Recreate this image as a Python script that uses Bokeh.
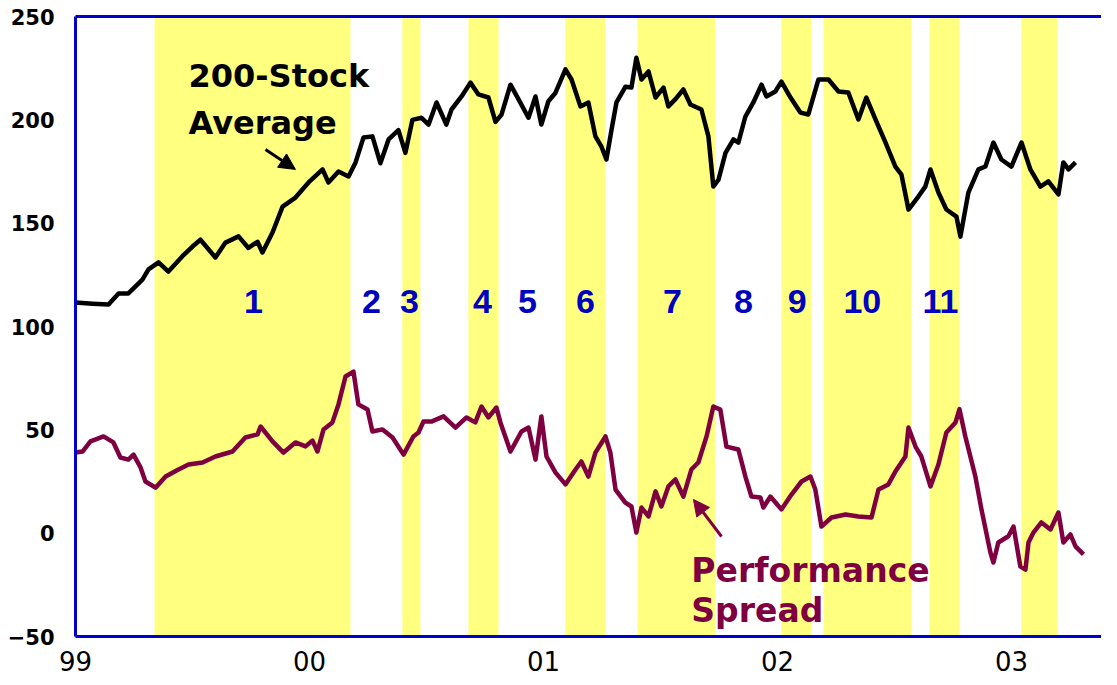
from bokeh.plotting import figure
from bokeh.models import Range1d, FixedTicker, LinearAxis, BoxAnnotation, Arrow, NormalHead
from bokeh.core.properties import value
from bokeh.embed import file_html
from bokeh.resources import INLINE

# ---- data (x in decimal years) ----
avg_year = [1999.000, 1999.073, 1999.141, 1999.184, 1999.226, 1999.286, 1999.312, 1999.355, 1999.397,
            1999.457, 1999.500, 1999.534, 1999.598, 1999.641, 1999.697, 1999.739, 1999.778, 1999.799,
            1999.842, 1999.885, 1999.940, 1999.996, 2000.056, 2000.081, 2000.124, 2000.167, 2000.197,
            2000.231, 2000.269, 2000.303, 2000.338, 2000.380, 2000.410, 2000.440, 2000.479, 2000.509,
            2000.543, 2000.585, 2000.607, 2000.650, 2000.688, 2000.722, 2000.765, 2000.795, 2000.821,
            2000.859, 2000.893, 2000.936, 2000.966, 2000.991, 2001.021, 2001.051, 2001.094, 2001.120,
            2001.158, 2001.192, 2001.222, 2001.248, 2001.269, 2001.291, 2001.312, 2001.350, 2001.376,
            2001.397, 2001.419, 2001.449, 2001.479, 2001.513, 2001.534, 2001.564, 2001.598, 2001.628,
            2001.675, 2001.705, 2001.726, 2001.748, 2001.778, 2001.812, 2001.833, 2001.863, 2001.897,
            2001.932, 2001.953, 2001.991, 2002.017, 2002.056, 2002.098, 2002.132, 2002.175, 2002.218,
            2002.261, 2002.303, 2002.346, 2002.380, 2002.419, 2002.462, 2002.504, 2002.530, 2002.560,
            2002.603, 2002.632, 2002.654, 2002.688, 2002.722, 2002.765, 2002.782, 2002.816, 2002.859,
            2002.889, 2002.923, 2002.957, 2003.000, 2003.043, 2003.081, 2003.124, 2003.158, 2003.201,
            2003.222, 2003.244, 2003.274]
avg_value = [111.6, 111.0, 110.6, 116.0, 116.0, 122.7, 127.6, 131.0, 126.6,
             134.0, 138.7, 142.0, 133.4, 140.6, 143.6, 138.0, 141.0, 135.8,
             145.5, 158.0, 162.4, 169.7, 176.0, 169.7, 175.0, 172.6, 179.4,
             191.5, 192.0, 179.0, 190.5, 195.0, 184.0, 200.0, 201.0, 197.7,
             208.4, 197.7, 205.0, 211.3, 218.0, 212.3, 210.8, 199.0, 202.6,
             217.0, 210.0, 201.0, 211.3, 197.7, 209.0, 213.0, 224.4, 219.5,
             206.5, 208.4, 192.0, 187.0, 180.8, 195.3, 208.4, 216.0, 215.6,
             230.0, 219.5, 223.4, 210.8, 215.6, 206.5, 210.0, 214.7, 207.4,
             205.0, 192.0, 167.7, 171.0, 184.0, 190.5, 189.0, 201.6, 208.4,
             217.0, 211.3, 213.7, 218.5, 210.8, 203.5, 202.6, 219.5, 219.5,
             213.7, 213.2, 200.2, 210.8, 200.2, 189.0, 177.4, 173.5, 156.6,
             163.0, 167.7, 176.0, 164.8, 156.6, 153.2, 143.5, 164.8, 176.0,
             177.4, 189.0, 180.8, 177.4, 189.0, 176.0, 167.7, 170.2, 163.9,
             179.4, 176.0, 179.4]

spread_year = [1999.000, 1999.030, 1999.064, 1999.120, 1999.162, 1999.192, 1999.226, 1999.248, 1999.278,
               1999.299, 1999.342, 1999.385, 1999.440, 1999.483, 1999.543, 1999.598, 1999.671, 1999.726,
               1999.778, 1999.791, 1999.842, 1999.889, 1999.940, 1999.983, 2000.013, 2000.034, 2000.060,
               2000.098, 2000.124, 2000.154, 2000.188, 2000.209, 2000.248, 2000.269, 2000.312, 2000.355,
               2000.402, 2000.444, 2000.466, 2000.487, 2000.521, 2000.573, 2000.624, 2000.671, 2000.709,
               2000.735, 2000.765, 2000.799, 2000.816, 2000.859, 2000.906, 2000.936, 2000.966, 2000.991,
               2001.013, 2001.051, 2001.094, 2001.137, 2001.162, 2001.192, 2001.222, 2001.265, 2001.286,
               2001.308, 2001.350, 2001.376, 2001.397, 2001.419, 2001.449, 2001.479, 2001.504, 2001.534,
               2001.564, 2001.598, 2001.632, 2001.662, 2001.697, 2001.726, 2001.756, 2001.782, 2001.833,
               2001.863, 2001.889, 2001.927, 2001.940, 2001.970, 2002.017, 2002.060, 2002.103, 2002.141,
               2002.162, 2002.188, 2002.231, 2002.291, 2002.346, 2002.402, 2002.432, 2002.474, 2002.504,
               2002.547, 2002.560, 2002.590, 2002.615, 2002.654, 2002.688, 2002.722, 2002.761, 2002.778,
               2002.803, 2002.846, 2002.872, 2002.910, 2002.923, 2002.944, 2002.987, 2003.009, 2003.038,
               2003.060, 2003.073, 2003.094, 2003.128, 2003.167, 2003.201, 2003.222, 2003.252, 2003.274,
               2003.308]
spread_value = [39.0, 39.5, 44.4, 46.8, 43.9, 36.6, 35.6, 38.0, 31.8,
                25.0, 22.0, 27.4, 30.8, 33.2, 34.2, 37.1, 39.5, 46.3,
                47.8, 51.6, 44.4, 39.0, 43.9, 42.0, 44.8, 39.5, 50.2,
                53.6, 62.3, 75.8, 78.2, 62.3, 59.8, 49.2, 50.2, 46.3,
                38.0, 46.8, 48.7, 54.0, 54.0, 56.5, 51.1, 56.0, 53.6,
                61.3, 56.0, 60.8, 53.6, 39.5, 49.2, 51.1, 35.6, 56.5,
                37.1, 29.4, 23.6, 30.8, 34.7, 27.4, 39.0, 46.8, 39.0,
                21.1, 14.8, 12.9, 0.3, 12.4, 8.1, 20.2, 12.9, 22.6,
                26.0, 17.7, 30.8, 34.2, 46.8, 61.3, 59.8, 41.9, 40.5,
                27.4, 17.7, 17.3, 12.4, 17.7, 11.5, 18.7, 25.0, 27.4,
                21.1, 3.2, 7.6, 9.0, 8.1, 7.6, 21.1, 23.6, 29.8,
                37.1, 51.1, 41.9, 37.1, 22.6, 33.2, 48.7, 53.6, 60.0,
                46.8, 27.4, 11.5, -9.3, -14.2, -4.5, -1.5, 3.2, -16.1,
                -17.6, -4.5, 0.3, 5.2, 1.8, 10.0, -4.5, -0.6, -6.4,
                -10.3]

band_start = [1999.338, 2000.397, 2000.679, 2001.094, 2001.402, 2002.017, 2002.197, 2002.650, 2003.043]
band_end = [2000.175, 2000.474, 2000.808, 2001.265, 2001.735, 2002.145, 2002.573, 2002.778, 2003.197]

period_labels = ["1", "2", "3", "4", "5", "6", "7", "8", "9", "10", "11"]
period_label_x = [1999.761, 2000.265, 2000.427, 2000.739, 2000.932, 2001.179, 2001.551, 2001.855,
                  2002.085, 2002.363, 2002.697]
period_label_y = [112] * 11

x_ticks = [1999, 2000, 2001, 2002, 2003]
x_tick_labels = ["99", "00", "01", "02", "03"]
y_ticks = [-50, 0, 50, 100, 150, 200, 250]

avg_text = ["200-Stock", "Average"]
avg_text_x = [1999.483, 1999.483]
avg_text_y = [221.0, 198.5]
spread_text = ["Performance", "Spread"]
spread_text_x = [2001.632, 2001.632]
spread_text_y = [-18.0, -37.3]

BLUE = "#0000CC"
MAROON = "#7F0040"
YELLOW = "#FFFF80"

p = figure(width=1101, height=675,
           x_range=Range1d(1999.0, 2003.385), y_range=Range1d(-50, 250),
           output_backend="svg", toolbar_location=None,
           min_border_left=75, min_border_right=0, min_border_top=16, min_border_bottom=39)
p.outline_line_color = None
p.grid.visible = False
p.background_fill_color = "white"
p.border_fill_color = "white"

# bottom axis
p.xaxis.ticker = FixedTicker(ticks=x_ticks)
p.xaxis.major_label_overrides = {t: l for t, l in zip(x_ticks, x_tick_labels)}
p.xaxis.axis_line_color = BLUE
p.xaxis.axis_line_width = 3
p.xaxis.major_tick_line_color = None
p.xaxis.minor_tick_line_color = None
p.xaxis.major_label_text_font = "DejaVu Sans"
p.xaxis.major_label_text_font_size = "26px"
p.xaxis.major_label_text_color = "black"
p.xaxis.major_label_standoff = 8

# left axis
p.yaxis.ticker = FixedTicker(ticks=y_ticks)
p.yaxis.axis_line_color = BLUE
p.yaxis.axis_line_width = 3
p.yaxis.major_tick_line_color = None
p.yaxis.minor_tick_line_color = None
p.yaxis.major_label_text_font = "DejaVu Sans"
p.yaxis.major_label_text_font_style = "bold"
p.yaxis.major_label_text_font_size = "21px"
p.yaxis.major_label_text_color = "black"
p.yaxis.major_label_standoff = 15

# top border line
top = LinearAxis(ticker=FixedTicker(ticks=[]), axis_line_color=BLUE, axis_line_width=3,
                 major_tick_line_color=None, minor_tick_line_color=None,
                 major_label_text_font_size="0px")
p.add_layout(top, "above")

for s, e in zip(band_start, band_end):
    p.add_layout(BoxAnnotation(left=s, right=e, fill_color=YELLOW, fill_alpha=1.0,
                               line_color=None, level="underlay"))

p.line(avg_year, avg_value, line_color="black", line_width=4.5, line_join="round")
p.line(spread_year, spread_value, line_color=MAROON, line_width=4.5, line_join="round")

p.text(x=period_label_x, y=period_label_y, text=period_labels,
       text_font=value("Liberation Sans"), text_font_style="bold", text_font_size="34px",
       text_color="#0000C0", text_align="center", text_baseline="alphabetic")

p.text(x=avg_text_x, y=avg_text_y, text=avg_text,
       text_font=value("DejaVu Sans"), text_font_style="bold", text_font_size="32px",
       text_color="black", text_align="left", text_baseline="alphabetic")
p.text(x=spread_text_x, y=spread_text_y, text=spread_text,
       text_font=value("DejaVu Sans"), text_font_style="bold", text_font_size="33px",
       text_color=MAROON, text_align="left", text_baseline="alphabetic")

p.add_layout(Arrow(end=NormalHead(size=16, fill_color="black", line_color="black"),
                   x_start=1999.812, y_start=185.6, x_end=1999.940, y_end=176.0,
                   line_color="black", line_width=3))
p.add_layout(Arrow(end=NormalHead(size=16, fill_color=MAROON, line_color=MAROON),
                   x_start=2001.761, y_start=-1.6, x_end=2001.641, y_end=16.3,
                   line_color=MAROON, line_width=3))

open("out.html", "w").write(file_html(p, INLINE))
